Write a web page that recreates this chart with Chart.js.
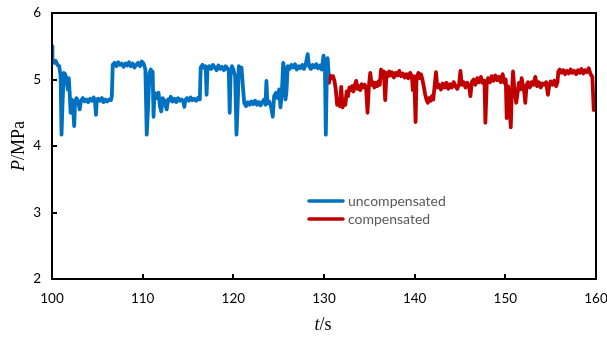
<!DOCTYPE html>
<html>
<head>
<meta charset="utf-8">
<script src="https://cdn.jsdelivr.net/npm/chart.js@4.4.1/dist/chart.umd.min.js"></script>
<style>
  html, body { margin: 0; padding: 0; background: #fff; }
  #wrap { width: 607px; height: 338px; }
</style>
</head>
<body>
<div id="wrap"><canvas id="pressure"></canvas></div>
<script>
// Pressure trace, before compensation (t in s, P in MPa)
const tUncomp = [
  100.0, 100.05, 100.2, 100.4, 100.6, 100.8, 100.95, 101.05, 101.15, 101.3,
  101.45, 101.6, 101.75, 101.85, 101.95, 102.05, 102.15, 102.3, 102.45, 102.55,
  102.7, 102.9, 103.05, 103.2, 103.4, 103.6, 103.8, 104.0, 104.2, 104.4,
  104.6, 104.75, 104.85, 104.95, 105.1, 105.3, 105.5, 105.7, 105.9, 106.1,
  106.3, 106.5, 106.6, 106.7, 106.9, 107.1, 107.3, 107.5, 107.7, 107.9,
  108.1, 108.3, 108.5, 108.7, 108.9, 109.1, 109.3, 109.5, 109.7, 109.9,
  110.1, 110.3, 110.45, 110.6, 110.75, 110.9, 111.0, 111.1, 111.2, 111.3,
  111.45, 111.6, 111.75, 111.9, 112.05, 112.2, 112.35, 112.5, 112.65, 112.8,
  112.95, 113.1, 113.3, 113.5, 113.7, 113.9, 114.1, 114.3, 114.5, 114.6,
  114.7, 114.9, 115.1, 115.3, 115.5, 115.7, 115.9, 116.1, 116.3, 116.4,
  116.6, 116.8, 116.95, 117.05, 117.15, 117.35, 117.55, 117.75, 117.95, 118.15,
  118.35, 118.55, 118.75, 118.95, 119.15, 119.35, 119.5, 119.6, 119.7, 119.85,
  120.0, 120.2, 120.35, 120.5, 120.6, 120.75, 120.9, 121.05, 121.2, 121.4,
  121.6, 121.8, 122.0, 122.2, 122.4, 122.6, 122.8, 123.0, 123.2, 123.4,
  123.55, 123.65, 123.75, 123.95, 124.15, 124.35, 124.5, 124.7, 124.9, 125.05,
  125.2, 125.35, 125.5, 125.65, 125.75, 125.85, 126.0, 126.2, 126.4, 126.6,
  126.8, 127.0, 127.2, 127.4, 127.6, 127.8, 128.0, 128.2, 128.35, 128.55,
  128.75, 128.95, 129.15, 129.35, 129.55, 129.75, 129.95, 130.1, 130.2, 130.3,
  130.4, 130.5
];
const pUncomp = [
  5.50, 5.30, 5.25, 5.28, 5.22, 5.20, 5.05, 4.17, 4.60, 5.10,
  5.08, 5.00, 4.85, 5.02, 4.80, 4.50, 4.70, 4.65, 4.30, 4.68,
  4.72, 4.66, 4.55, 4.68, 4.72, 4.67, 4.70, 4.66, 4.71, 4.68,
  4.73, 4.66, 4.47, 4.70, 4.71, 4.68, 4.72, 4.66, 4.70, 4.67,
  4.70, 4.69, 4.75, 5.22, 5.25, 5.20, 5.26, 5.22, 5.24, 5.19,
  5.24, 5.21, 5.26, 5.20, 5.24, 5.18, 5.22, 5.25, 5.20, 5.27,
  5.24, 5.15, 4.17, 4.60, 5.10, 5.15, 5.02, 5.12, 4.44, 4.80,
  4.78, 4.72, 4.80, 4.60, 4.52, 4.72, 4.69, 4.62, 4.55, 4.70,
  4.68, 4.74, 4.67, 4.71, 4.66, 4.72, 4.68, 4.70, 4.66, 4.59,
  4.69, 4.72, 4.68, 4.73, 4.69, 4.71, 4.68, 4.72, 4.70, 5.18,
  5.22, 5.17, 5.20, 4.77, 5.15, 5.20, 5.16, 5.22, 5.18, 5.14,
  5.21, 5.16, 5.19, 5.14, 5.20, 5.17, 5.12, 4.50, 5.10, 5.20,
  5.15, 5.05, 4.17, 4.70, 5.20, 5.10, 5.18, 4.90, 4.65, 4.60,
  4.66, 4.62, 4.67, 4.63, 4.68, 4.62, 4.66, 4.61, 4.66, 4.70,
  4.62, 4.98, 4.64, 4.67, 4.60, 4.44, 4.75, 4.80, 4.72, 4.85,
  4.58, 4.80, 5.25, 5.10, 4.70, 4.80, 5.20, 5.16, 5.22, 5.18,
  5.23, 5.15, 5.20, 5.17, 5.22, 5.16, 5.24, 5.38, 5.20, 5.16,
  5.22, 5.18, 5.23, 5.17, 5.21, 5.15, 5.36, 5.20, 4.17, 5.00,
  5.32, 5.10
];

// Pressure trace, after compensation
const tComp = [
  130.4, 130.55, 130.7, 130.85, 131.0, 131.15, 131.3, 131.45, 131.6, 131.75,
  131.9, 132.05, 132.2, 132.35, 132.5, 132.65, 132.8, 132.95, 133.1, 133.25,
  133.4, 133.55, 133.7, 133.85, 134.0, 134.15, 134.3, 134.5, 134.65, 134.8,
  134.95, 135.1, 135.25, 135.4, 135.55, 135.7, 135.85, 136.0, 136.15, 136.3,
  136.45, 136.6, 136.75, 136.9, 137.05, 137.2, 137.35, 137.5, 137.7, 137.9,
  138.1, 138.3, 138.5, 138.7, 138.9, 139.1, 139.3, 139.5, 139.7, 139.8,
  139.95, 140.1, 140.2, 140.4, 140.55, 140.7, 140.85, 141.0, 141.15, 141.3,
  141.45, 141.6, 141.75, 141.9, 142.05, 142.2, 142.35, 142.5, 142.7, 142.9,
  143.1, 143.3, 143.5, 143.7, 143.9, 144.1, 144.3, 144.5, 144.7, 144.9,
  145.05, 145.2, 145.4, 145.6, 145.8, 146.0, 146.15, 146.3, 146.5, 146.7,
  146.9, 147.1, 147.3, 147.5, 147.7, 147.8, 147.95, 148.1, 148.3, 148.5,
  148.7, 148.9, 149.1, 149.3, 149.5, 149.7, 149.9, 150.05, 150.15, 150.3,
  150.45, 150.6, 150.7, 150.85, 151.0, 151.2, 151.35, 151.5, 151.65, 151.8,
  151.95, 152.1, 152.2, 152.35, 152.5, 152.7, 152.9, 153.1, 153.3, 153.5,
  153.7, 153.9, 154.1, 154.3, 154.5, 154.7, 154.85, 155.0, 155.2, 155.4,
  155.6, 155.75, 155.85, 156.0, 156.2, 156.4, 156.6, 156.8, 157.0, 157.2,
  157.4, 157.6, 157.8, 158.0, 158.2, 158.4, 158.6, 158.8, 159.0, 159.2,
  159.4, 159.6, 159.75
];
const pComp = [
  5.00, 4.95, 5.06, 5.02, 5.05, 4.98, 4.85, 4.62, 4.70, 4.60,
  4.89, 4.58, 4.66, 4.62, 4.82, 4.75, 4.88, 4.84, 4.90, 4.82,
  4.92, 4.98, 4.86, 4.90, 4.84, 4.93, 4.88, 4.92, 4.86, 4.50,
  4.90, 5.10, 4.92, 4.96, 4.88, 4.95, 4.90, 4.97, 4.92, 5.15,
  5.08, 5.12, 4.69, 5.10, 5.05, 5.12, 5.06, 5.11, 5.03, 5.10,
  5.06, 5.13, 5.05, 5.09, 5.03, 5.08, 5.02, 5.10, 5.04, 4.84,
  5.05, 4.36, 4.98, 5.10, 5.02, 5.08, 5.00, 4.90, 4.78, 4.70,
  4.65, 4.72, 4.68, 4.75, 4.70, 4.90, 5.11, 4.88, 4.92, 4.85,
  4.94, 4.88, 4.95, 4.86, 4.93, 4.88, 4.96, 4.90, 4.86, 4.93,
  5.13, 4.92, 4.96, 4.88, 4.95, 4.90, 4.75, 4.96, 5.00, 4.92,
  5.02, 4.96, 5.04, 4.95, 4.98, 4.35, 4.95, 5.02, 4.96, 5.05,
  4.98, 5.06, 4.99, 5.04, 4.96, 5.08, 4.95, 5.00, 4.42, 4.90,
  4.65, 4.28, 4.75, 5.12, 4.85, 4.65, 4.80, 4.95, 4.85, 5.02,
  4.90, 4.80, 4.65, 4.92, 4.96, 4.88, 4.96, 4.92, 5.04, 4.90,
  4.96, 4.88, 4.94, 4.92, 4.96, 4.77, 4.92, 4.97, 4.92, 4.98,
  4.90, 4.96, 5.12, 5.15, 5.10, 5.14, 5.08, 5.13, 5.09, 5.15,
  5.10, 5.13, 5.08, 5.14, 5.10, 5.16, 5.09, 5.14, 5.11, 5.17,
  5.08, 5.04, 4.54
];

const xTicks = [100, 110, 120, 130, 140, 150, 160];
const yTicks = [2, 3, 4, 5, 6];
const seriesNames = ['uncompensated', 'compensated'];
const seriesColors = ['#0070C0', '#C00000'];

const toPoints = (ts, ps) => ts.map((t, i) => ({ x: t, y: ps[i] }));

// Box frame with inward tick marks, axis titles and the in-plot legend
const framePlugin = {
  id: 'frame',
  afterDraw(chart) {
    const { ctx, chartArea: a, scales } = chart;
    ctx.save();
    ctx.strokeStyle = '#000';
    ctx.lineWidth = 2;
    ctx.strokeRect(a.left, a.top, a.right - a.left, a.bottom - a.top);

    ctx.beginPath();
    yTicks.forEach(v => {
      const y = Math.round(scales.y.getPixelForValue(v));
      ctx.moveTo(a.left, y);
      ctx.lineTo(a.left + 5, y);
    });
    xTicks.forEach(v => {
      const x = Math.round(scales.x.getPixelForValue(v));
      ctx.moveTo(x, a.bottom);
      ctx.lineTo(x, a.bottom - 5);
    });
    ctx.stroke();

    // axis titles, italic quantity symbol then unit
    ctx.fillStyle = '#000';
    ctx.textBaseline = 'middle';
    const italic = 'italic 18px "Liberation Serif"';
    const plain = '18px "Liberation Serif"';

    ctx.font = italic;
    const tw = ctx.measureText('t').width;
    ctx.font = plain;
    const sw = ctx.measureText('/s').width;
    let x0 = 323 - (tw + sw) / 2;
    ctx.font = italic;
    ctx.fillText('t', x0, 325);
    ctx.font = plain;
    ctx.fillText('/s', x0 + tw, 325);

    ctx.save();
    ctx.translate(19, (a.top + a.bottom) / 2);
    ctx.rotate(-Math.PI / 2);
    ctx.font = italic;
    const pw = ctx.measureText('P').width;
    ctx.font = plain;
    const mw = ctx.measureText('/MPa').width;
    x0 = -(pw + mw) / 2;
    ctx.font = italic;
    ctx.fillText('P', x0, 0);
    ctx.font = plain;
    ctx.fillText('/MPa', x0 + pw, 0);
    ctx.restore();

    // legend
    ctx.font = '14px Lato';
    ctx.lineWidth = 3.5;
    ctx.lineCap = 'round';
    seriesNames.forEach((name, i) => {
      const y = 201 + i * 18;
      ctx.strokeStyle = seriesColors[i];
      ctx.beginPath();
      ctx.moveTo(309, y);
      ctx.lineTo(343, y);
      ctx.stroke();
      ctx.fillStyle = '#595959';
      ctx.fillText(name, 348, y);
    });
    ctx.restore();
  }
};

// keep the plot box fixed: labels may overhang the frame
const fixX = s => { s.height = 59; s.paddingLeft = 0; s.paddingRight = 0; };
const fixY = s => { s.width = 52; s.paddingTop = 0; s.paddingBottom = 0; };
const tickFont = { family: 'Lato', size: 13.5 };

new Chart(document.getElementById('pressure'), {
  type: 'line',
  data: {
    datasets: [
      { label: seriesNames[0], data: toPoints(tUncomp, pUncomp) },
      { label: seriesNames[1], data: toPoints(tComp, pComp) }
    ].map((d, i) => ({
      ...d,
      borderColor: seriesColors[i],
      borderWidth: 3.8,
      pointRadius: 0,
      tension: 0,
      borderJoinStyle: 'round',
      borderCapStyle: 'round'
    }))
  },
  options: {
    responsive: true,
    maintainAspectRatio: false,
    animation: false,
    layout: { padding: { top: 13, right: 11, left: 0, bottom: 0 } },
    plugins: { legend: { display: false }, tooltip: { enabled: false } },
    scales: {
      x: {
        type: 'linear',
        min: 100,
        max: 160,
        afterBuildTicks: s => { s.ticks = xTicks.map(v => ({ value: v })); },
        afterFit: fixX,
        grid: { display: false, drawTicks: false },
        border: { display: false },
        ticks: { padding: 12, color: '#000', font: tickFont }
      },
      y: {
        min: 2,
        max: 6,
        afterBuildTicks: s => { s.ticks = yTicks.map(v => ({ value: v })); },
        afterFit: fixY,
        grid: { display: false, drawTicks: false },
        border: { display: false },
        ticks: { padding: 11, color: '#000', font: tickFont }
      }
    }
  },
  plugins: [framePlugin]
});
</script>
</body>
</html>
